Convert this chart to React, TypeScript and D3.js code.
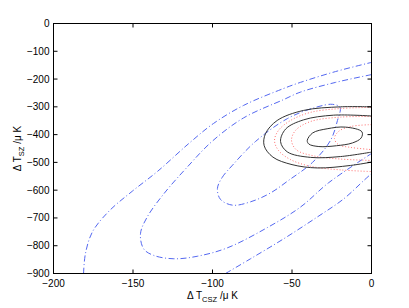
import * as d3 from "d3";
import { useEffect, useRef } from "react";

type Pt = [number, number];

// axis ticks
const xTicks = [-200, -150, -100, -50, 0];
const yTicks = [0, -100, -200, -300, -400, -500, -600, -700, -800, -900];

// black solid contours (ΔT_CSZ, ΔT_SZ)
const blackInner: Pt[] = [
  [-40.4, -421], [-37, -394], [-27.9, -379], [-16.4, -373], [-6, -390], [-6.5, -412],
  [-12, -430], [-22, -440], [-33.1, -443], [-39.4, -434],
];
const blackMiddle: Pt[] = [
  [0, -333], [-23.9, -330], [-42.8, -347], [-54, -380], [-57.2, -425],
  [-53, -462], [-38.4, -482], [-19.5, -479], [0, -463],
];
const blackOuter: Pt[] = [
  [0, -300], [-19.5, -300], [-42.8, -313], [-59.3, -349], [-66.7, -397],
  [-67.5, -440], [-62, -481], [-50, -508], [-34.2, -520], [-13.2, -511], [0, -499],
];

// red dotted contours
const redInner: Pt[] = [
  [0, -364], [-13.2, -371], [-20.8, -389], [-23.3, -414], [-20.8, -436], [-13.2, -446], [0, -454],
];
const redMiddle: Pt[] = [
  [0, -335], [-19.5, -337], [-38.4, -353], [-47.8, -385], [-50.3, -421],
  [-47.2, -455], [-36, -477], [-19.5, -488], [0, -493],
];
const redOuter: Pt[] = [
  [0, -302], [-19.5, -306], [-38.4, -320], [-50.9, -349], [-58.5, -385], [-61, -421],
  [-58.5, -457], [-50.9, -490], [-38.4, -514], [-19.5, -527], [0, -533],
];

// blue dash-dot contours
const blueInner: Pt[] = [
  [-96.9, -594], [-94, -555], [-87.4, -510], [-73, -425], [-52.8, -342], [-35.2, -302],
  [-24.5, -291], [-19.8, -302], [-21.4, -349], [-25.8, -421], [-37.1, -500],
  [-52.2, -565], [-63.5, -610], [-76.1, -642], [-87.4, -654], [-95, -633],
];
const blueMiddle: Pt[] = [
  [0, -184], [-22.6, -212], [-44.7, -247], [-55.3, -274], [-80.5, -340], [-100.2, -424],
  [-115.9, -517], [-130.6, -613], [-141.1, -697], [-145.3, -757], [-143.2, -812],
  [-136.9, -835], [-124.3, -847], [-109.6, -838], [-90.8, -808], [-65.6, -735],
  [-44.7, -661], [-26.9, -573], [0, -468],
];
const blueOuterUpper: Pt[] = [
  [-181.1, -900], [-179.9, -828], [-175.5, -750], [-165, -675], [-150.5, -604],
  [-134.5, -532], [-114.5, -430], [-99.4, -360], [-80.5, -295], [-55.3, -234],
  [-44.7, -212], [-22.6, -173], [0, -140],
];
const blueOuterLower: Pt[] = [
  [-91.8, -900], [-76.1, -847], [-55.2, -775], [-34.2, -697], [-17.4, -631], [-4.8, -565], [0, -540],
];

const contours = [
  { pts: blueOuterUpper, closed: false, kind: "blue" },
  { pts: blueOuterLower, closed: false, kind: "blue" },
  { pts: blueMiddle, closed: false, kind: "blue" },
  { pts: blueInner, closed: true, kind: "blue" },
  { pts: redOuter, closed: false, kind: "red" },
  { pts: redMiddle, closed: false, kind: "red" },
  { pts: redInner, closed: false, kind: "red" },
  { pts: blackOuter, closed: false, kind: "black" },
  { pts: blackMiddle, closed: false, kind: "black" },
  { pts: blackInner, closed: true, kind: "black" },
];

const styles: Record<string, { stroke: string; dash: string; width: number }> = {
  blue: { stroke: "#5468f0", dash: "6,2.5,1,2.5", width: 1 },
  red: { stroke: "#ff6f6f", dash: "1,2", width: 1 },
  black: { stroke: "#333", dash: "", width: 1 },
};

export default function App() {
  const ref = useRef<SVGSVGElement>(null);

  useEffect(() => {
    if (!ref.current) return;
    const svg = d3.select(ref.current);
    svg.selectAll("*").remove();

    const width = 409;
    const height = 308;
    const margin = { top: 23, right: 38, bottom: 35, left: 53 };
    const w = width - margin.left - margin.right;
    const h = height - margin.top - margin.bottom;

    const x = d3.scaleLinear().domain([-200, 0]).range([0, w]);
    const y = d3.scaleLinear().domain([-900, 0]).range([h, 0]);

    const g = svg
      .append("g")
      .attr("transform", `translate(${margin.left + 0.5},${margin.top + 0.5})`);

    g.append("clipPath")
      .attr("id", "plot-clip")
      .append("rect")
      .attr("width", w)
      .attr("height", h);

    const font = "'Liberation Sans', Arial, sans-serif";

    // contours
    const lines = g.append("g").attr("clip-path", "url(#plot-clip)");
    contours.forEach((c) => {
      const st = styles[c.kind];
      const line = d3
        .line<Pt>()
        .x((d) => x(d[0]))
        .y((d) => y(d[1]))
        .curve(c.closed ? d3.curveCatmullRomClosed.alpha(0.5) : d3.curveCatmullRom.alpha(0.5));
      lines
        .append("path")
        .attr("d", line(c.pts))
        .attr("fill", "none")
        .attr("stroke", st.stroke)
        .attr("stroke-width", st.width)
        .attr("stroke-dasharray", st.dash || null);
    });

    // box
    g.append("rect")
      .attr("width", w)
      .attr("height", h)
      .attr("fill", "none")
      .attr("stroke", "#000")
      .attr("stroke-width", 1);

    const tl = 4;
    // x ticks (bottom and top, inward)
    xTicks.forEach((t) => {
      g.append("line").attr("x1", x(t)).attr("x2", x(t)).attr("y1", h).attr("y2", h - tl).attr("stroke", "#000");
      g.append("line").attr("x1", x(t)).attr("x2", x(t)).attr("y1", 0).attr("y2", tl).attr("stroke", "#000");
      g.append("text")
        .attr("x", x(t))
        .attr("y", h + 13)
        .attr("text-anchor", "middle")
        .attr("font-family", font)
        .attr("font-size", 10)
        .attr("fill", "#000")
        .text(d3.format("d")(t));
    });
    // y ticks (left and right, inward)
    yTicks.forEach((t) => {
      g.append("line").attr("x1", 0).attr("x2", tl).attr("y1", y(t)).attr("y2", y(t)).attr("stroke", "#000");
      g.append("line").attr("x1", w).attr("x2", w - tl).attr("y1", y(t)).attr("y2", y(t)).attr("stroke", "#000");
      g.append("text")
        .attr("x", -4)
        .attr("y", y(t) + 3.5)
        .attr("text-anchor", "end")
        .attr("font-family", font)
        .attr("font-size", 10)
        .attr("fill", "#000")
        .text(d3.format("d")(t));
    });

    // x label
    const xl = g
      .append("text")
      .attr("x", w / 2)
      .attr("y", h + 25)
      .attr("text-anchor", "middle")
      .attr("font-family", font)
      .attr("font-size", 10)
      .attr("fill", "#000");
    xl.append("tspan").text("Δ T");
    xl.append("tspan").attr("dy", 3).attr("font-size", 7.5).text("CSZ");
    xl.append("tspan").attr("dy", -3).text(" /μ K");

    // y label
    const yl = g
      .append("text")
      .attr("transform", `translate(${-33},${h / 2}) rotate(-90)`)
      .attr("text-anchor", "middle")
      .attr("font-family", font)
      .attr("font-size", 10)
      .attr("fill", "#000");
    yl.append("tspan").text("Δ T");
    yl.append("tspan").attr("dy", 3).attr("font-size", 7.5).text("SZ");
    yl.append("tspan").attr("dy", -3).text(" /μ K");
  }, []);

  return (
    <svg
      ref={ref}
      width={409}
      height={308}
      style={{ position: "absolute", left: 0, top: 0, background: "#fff" }}
    ></svg>
  );
}
